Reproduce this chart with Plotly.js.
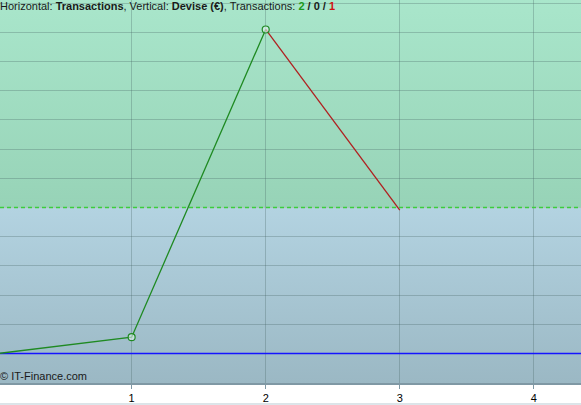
<!DOCTYPE html>
<html>
<head>
<meta charset="utf-8">
<script src="https://cdn.plot.ly/plotly-3.0.1.min.js"></script>
<style>
html,body{margin:0;padding:0;background:#fff;}
#chart{width:581px;height:405px;}
</style>
</head>
<body>
<div id="chart"></div>
<script>
// Data
var transactions = [0, 1, 2, 3];
var equity = [0, 56, 1110, 491];
var winIdx = [0, 1, 2];      // green segment points
var lossIdx = [2, 3];        // red segment points
var markerIdx = [1, 2];      // points with open circle markers
var levelValue = [500];      // dashed reference level
var baseValue = [0];         // blue base line
var xTickVals = [1, 2, 3, 4];
var xTickText = ['1', '2', '3', '4'];
var countWin = 2, countFlat = 0, countLoss = 1;

var yMin = -101, yMax = 1211;

function pick(arr, idx){ return idx.map(function(i){ return arr[i]; }); }

function gradURI(c1, c2){
  var svg = '<svg xmlns="http://www.w3.org/2000/svg" width="10" height="100" preserveAspectRatio="none">' +
    '<defs><linearGradient id="g" x1="0" y1="0" x2="0" y2="1">' +
    '<stop offset="0" stop-color="' + c1 + '"/><stop offset="1" stop-color="' + c2 + '"/>' +
    '</linearGradient></defs><rect width="10" height="100" fill="url(#g)"/></svg>';
  return 'data:image/svg+xml;charset=utf-8,' + encodeURIComponent(svg);
}

var traces = [
  {
    x: [transactions[0], transactions[transactions.length - 1] + 2], y: [baseValue[0], baseValue[0]],
    type: 'scatter', mode: 'lines',
    line: {color: 'rgb(20,20,255)', width: 1.5},
    hoverinfo: 'skip'
  },
  {
    x: pick(transactions, winIdx), y: pick(equity, winIdx),
    type: 'scatter', mode: 'lines',
    line: {color: '#1f8a22', width: 1.3},
    hoverinfo: 'skip'
  },
  {
    x: pick(transactions, lossIdx), y: pick(equity, lossIdx),
    type: 'scatter', mode: 'lines',
    line: {color: '#b02020', width: 1.3},
    hoverinfo: 'skip'
  },
  {
    x: pick(transactions, markerIdx), y: pick(equity, markerIdx),
    type: 'scatter', mode: 'markers',
    marker: {symbol: 'circle', size: 7, color: 'rgba(225,240,240,0.6)', line: {color: '#1f8a22', width: 1.2}},
    hoverinfo: 'skip'
  }
];

var gridCol = 'rgba(70,100,100,0.30)';
var layout = {
  width: 581, height: 405,
  margin: {l: 0, r: 0, t: 0, b: 22},
  paper_bgcolor: '#ffffff',
  plot_bgcolor: '#ffffff',
  showlegend: false,
  font: {family: '"Liberation Sans", Arial, sans-serif', size: 11, color: '#000'},
  xaxis: {
    range: [0.018, 4.352],
    tickvals: xTickVals, ticktext: xTickText,
    showgrid: true, gridcolor: gridCol, gridwidth: 1,
    zeroline: false,
    showline: true, linecolor: '#7f98a4', linewidth: 2,
    ticks: 'outside', ticklen: 4, tickcolor: '#7f98a4', tickwidth: 1,
    tickfont: {size: 11, color: '#000'},
    fixedrange: true
  },
  yaxis: {
    range: [yMin, yMax],
    tick0: 0, dtick: 100,
    showgrid: true, gridcolor: gridCol, gridwidth: 1,
    zeroline: false,
    showticklabels: false, ticks: '',
    showline: false,
    fixedrange: true
  },
  images: [
    {source: gradURI('#a9e6cb', '#97d3b7'), xref: 'paper', yref: 'y', x: 0, y: yMax,
     sizex: 1, sizey: yMax - levelValue[0], sizing: 'stretch', xanchor: 'left', yanchor: 'top', layer: 'below'},
    {source: gradURI('#b3d3e1', '#9bb8c4'), xref: 'paper', yref: 'y', x: 0, y: levelValue[0],
     sizex: 1, sizey: levelValue[0] - yMin, sizing: 'stretch', xanchor: 'left', yanchor: 'top', layer: 'below'}
  ],
  shapes: [
    {type: 'line', xref: 'paper', yref: 'y', x0: 0, x1: 1, y0: levelValue[0], y1: levelValue[0],
     line: {color: 'rgb(60,205,60)', width: 1.5, dash: '4px,3px'}},
    {type: 'line', xref: 'paper', yref: 'paper', x0: 0, x1: 1, y0: -0.0548, y1: -0.0548,
     line: {color: '#b9cad3', width: 1}}
  ],
  annotations: [
    {xref: 'paper', yref: 'paper', x: 0, y: 1.004, xanchor: 'left', yanchor: 'top', showarrow: false,
     xshift: -2,
     font: {size: 11, color: '#1a1a1a', family: '"Liberation Sans", Arial, sans-serif'},
     text: 'Horizontal: <b>Transactions</b>, Vertical: <b>Devise (€)</b>, Transactions: ' +
       '<b><span style="color:#1a9a1a">' + countWin + '</span> / ' + countFlat +
       ' / <span style="color:#d01010">' + countLoss + '</span></b>'},
    {xref: 'paper', yref: 'paper', x: 0, y: 0, xanchor: 'left', yanchor: 'bottom', showarrow: false,
     xshift: -2, yshift: -1,
     font: {size: 11, color: '#1a1a1a', family: '"Liberation Sans", Arial, sans-serif'},
     text: '© IT-Finance.com'}
  ]
};

Plotly.newPlot('chart', traces, layout, {staticPlot: true, displayModeBar: false});
</script>
</body>
</html>
